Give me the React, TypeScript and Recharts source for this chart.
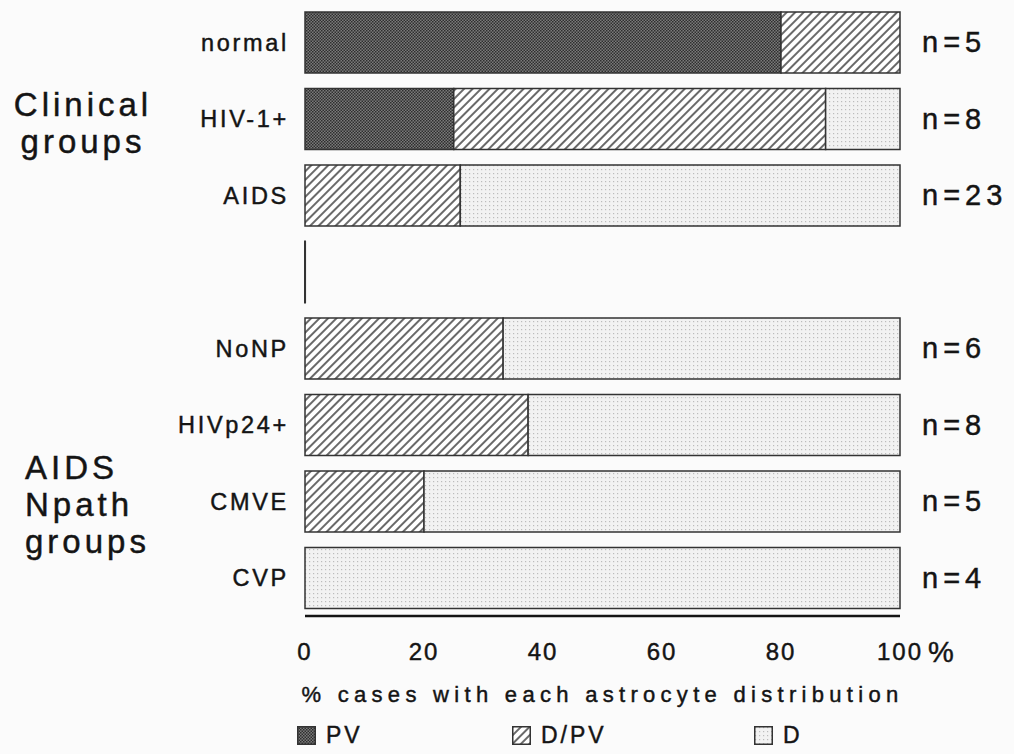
import { BarChart, Bar, XAxis, YAxis, Legend } from 'recharts';

// rows top to bottom; the blank row is the gap between the two groups
const groups = ['normal', 'HIV-1+', 'AIDS', '', 'NoNP', 'HIVp24+', 'CMVE', 'CVP'];
const pvShare = [80, 25, 0, 0, 0, 0, 0, 0];
const dpvShare = [20, 62.5, 26.1, 0, 33.3, 37.5, 20, 0];
const dShare = [0, 12.5, 73.9, 0, 66.7, 62.5, 80, 100];
const stubShare = [0, 0, 0, 0.01, 0, 0, 0, 0];
const caseCounts = ['n=5', 'n=8', 'n=23', '', 'n=6', 'n=8', 'n=5', 'n=4'];
const xTicks = [0, 20, 40, 60, 80, 100];

const data = groups.map((name, i) => ({
  name,
  pv: pvShare[i],
  dpv: dpvShare[i],
  d: dShare[i],
  stub: stubShare[i],
  n: caseCounts[i],
}));

const FONT = '"Liberation Sans", Arial, Helvetica, sans-serif';
const INK = '#141414';
const BOLDEN = 0.45;

const legendItems = [
  { label: 'PV', fill: 'url(#patPV)', width: 215 },
  { label: 'D/PV', fill: 'url(#patDPV)', width: 242 },
  { label: 'D', fill: 'url(#patD)', width: 100 },
];

const Patterns = () => (
  <defs>
    <pattern id="patPV" width="3" height="3" patternUnits="userSpaceOnUse">
      <rect width="3" height="3" fill="#7a7a7a" />
      <rect width="1.5" height="1.5" fill="#2e2e2e" />
      <rect x="1.5" y="1.5" width="1.5" height="1.5" fill="#2e2e2e" />
    </pattern>
    <pattern id="patDPV" width="6" height="6" patternUnits="userSpaceOnUse" patternTransform="rotate(45)">
      <rect width="6" height="6" fill="#ffffff" />
      <line x1="1" y1="0" x2="1" y2="6" stroke="#444" strokeWidth="1.6" />
    </pattern>
    <pattern id="patD" width="4" height="4" patternUnits="userSpaceOnUse">
      <rect width="4" height="4" fill="#f2f2f2" />
      <rect x="1" y="1" width="1.2" height="1.2" fill="#bcbcbc" />
    </pattern>
  </defs>
);

const XTick = ({ x, y, payload }: any) => (
  <g>
    <text x={x} y={y} dy={20} textAnchor="middle" fontSize={24} fontFamily={FONT} fill={INK} stroke={INK} strokeWidth={BOLDEN} letterSpacing={2}>
      {payload.value}
    </text>
    {payload.value === 100 && (
      <text x={x + 28} y={y} dy={22} textAnchor="start" fontSize={29} fontFamily={FONT} fill={INK} stroke={INK} strokeWidth={BOLDEN}>
        %
      </text>
    )}
  </g>
);

const CountTick = ({ x, y, index }: any) => (
  <text x={x} y={y} dy={10} textAnchor="start" fontSize={29} fontFamily={FONT} fill={INK} stroke={INK} strokeWidth={BOLDEN} letterSpacing={5}>
    {caseCounts[index]}
  </text>
);

const LegendContent = () => (
  <div
    style={{
      display: 'flex',
      height: 30,
      marginTop: -3,
      paddingLeft: 297,
      fontFamily: FONT,
      fontSize: 23,
      letterSpacing: 3,
      color: INK,
      WebkitTextStroke: `${BOLDEN}px ${INK}`,
    }}
  >
    {legendItems.map((item) => (
      <div key={item.label} style={{ width: item.width, display: 'flex', alignItems: 'center' }}>
        <svg width={19} height={19} style={{ marginRight: 10 }}>
          <rect x={0.75} y={0.75} width={17.5} height={17.5} fill={item.fill} stroke="#333" strokeWidth={1.5} />
        </svg>
        <span>{item.label}</span>
      </div>
    ))}
  </div>
);

const groupLabel: React.CSSProperties = {
  position: 'absolute',
  width: 170,
  fontFamily: FONT,
  fontSize: 33,
  letterSpacing: 4,
  lineHeight: '37px',
  color: INK,
  WebkitTextStroke: `${BOLDEN}px ${INK}`,
};

export default function App() {
  return (
    <div style={{ position: 'absolute', left: 0, top: 0, width: 1014, height: 754, background: '#fbfbfb' }}>
      <BarChart
        width={1014}
        height={754}
        data={data}
        layout="vertical"
        margin={{ top: 4, right: 0, left: 0, bottom: 4 }}
        barCategoryGap={8}
      >
        <Patterns />
        <XAxis
          type="number"
          domain={[0, 100]}
          ticks={xTicks}
          height={107}
          tickLine={false}
          tickSize={0}
          tickMargin={24}
          axisLine={{ stroke: INK, strokeWidth: 2.5 }}
          tick={<XTick />}
          label={{
            value: '% cases with each astrocyte distribution',
            position: 'insideBottom',
            offset: 21,
            fontSize: 22,
            fontFamily: FONT,
            letterSpacing: 5.3,
            fill: INK,
            stroke: INK,
            strokeWidth: BOLDEN,
          }}
        />
        <YAxis
          type="category"
          dataKey="name"
          width={305}
          tickLine={false}
          axisLine={false}
          tickSize={0}
          tickMargin={16}
          tick={{ fontSize: 23.5, fontFamily: FONT, fill: INK, stroke: INK, strokeWidth: BOLDEN, letterSpacing: 2.7 }}
        />
        <YAxis
          yAxisId="counts"
          orientation="right"
          type="category"
          dataKey="name"
          width={114}
          tickLine={false}
          axisLine={false}
          tickSize={0}
          tickMargin={22}
          tick={<CountTick />}
        />
        <Legend verticalAlign="bottom" content={<LegendContent />} />
        <Bar dataKey="pv" stackId="a" fill="url(#patPV)" stroke="#333" strokeWidth={1.5} isAnimationActive={false} />
        <Bar dataKey="dpv" stackId="a" fill="url(#patDPV)" stroke="#333" strokeWidth={1.5} isAnimationActive={false} />
        <Bar dataKey="d" stackId="a" fill="url(#patD)" stroke="#333" strokeWidth={1.5} isAnimationActive={false} />
        <Bar dataKey="stub" stackId="a" fill="none" stroke="#333" strokeWidth={2} legendType="none" isAnimationActive={false} />
      </BarChart>
      <div style={{ ...groupLabel, left: -2, top: 86, textAlign: 'center' }}>
        Clinical
        <br />
        groups
      </div>
      <div style={{ ...groupLabel, left: 25, top: 449, textAlign: 'left' }}>
        AIDS
        <br />
        Npath
        <br />
        groups
      </div>
    </div>
  );
}
